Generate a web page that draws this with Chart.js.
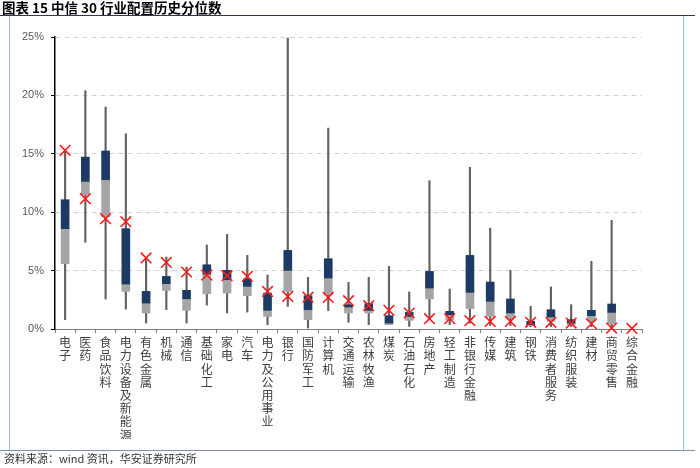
<!DOCTYPE html>
<html>
<head>
<meta charset="utf-8">
<script src="https://cdn.jsdelivr.net/npm/chart.js@4.4.0/dist/chart.umd.min.js"></script>
<style>
  html, body { margin: 0; padding: 0; background: #fff; }
  #wrap { position: relative; width: 700px; height: 468px; overflow: hidden; }
  #title { position: absolute; left: 2px; top: 0px; font: bold 13.5px "Noto Sans CJK SC", sans-serif; color: #000; line-height: 15px; }
  #source { position: absolute; left: 4px; top: 451px; font: 11px "Noto Sans CJK SC", sans-serif; color: #333; line-height: 15px; }
  .hl { position: absolute; height: 0; }
  .vl { position: absolute; width: 0; }
  canvas { position: absolute; left: 0; top: 0; }
</style>
</head>
<body>
<div id="wrap">
  <canvas id="c" width="700" height="468"></canvas>
  <div id="title">图表 15 中信 30 行业配置历史分位数</div>
  <div class="hl" style="left:0;top:15px;width:695px;border-top:1.5px solid #2f3b4c;"></div>
  <div class="vl" style="left:9px;top:16px;height:434px;border-left:1px solid #9dbbe0;"></div>
  <div class="vl" style="left:683px;top:16px;height:434px;border-left:1px solid #9dbbe0;"></div>
  <div class="hl" style="left:0;top:450px;width:695px;border-top:1px solid #7f93ad;"></div>
  <div id="source">资料来源：wind 资讯，华安证券研究所</div>
</div>
<script>
const categories = ['电子','医药','食品饮料','电力设备及新能源','有色金属','机械','通信','基础化工','家电','汽车','电力及公用事业','银行','国防军工','计算机','交通运输','农林牧渔','煤炭','石油石化','房地产','轻工制造','非银行金融','传媒','建筑','钢铁','消费者服务','纺织服装','建材','商贸零售','综合金融'];
const maxVals    = [15.35, 20.4, 19.0, 16.72, 6.08, 6.16, 5.3, 7.19, 8.1, 6.3, 4.62, 24.9, 4.42, 17.2, 3.99, 4.42, 5.36, 3.17, 12.7, 3.42, 13.84, 8.64, 5.02, 1.94, 3.6, 2.08, 5.79, 9.3, null];
const minVals    = [0.8, 7.42, 2.57, 1.71, 0.51, 1.65, 0.51, 2.05, 1.37, 1.45, 0.37, 1.94, 0.08, 1.57, 0.57, 0.37, 0.37, 0.22, 0.8, 0.37, 0.5, 0.3, 0.3, 0.2, 0.2, 0.2, 0.2, 0.05, null];
const q1Vals     = [5.59, 11.5, 9.6, 3.22, 1.37, 3.3, 1.6, 3.02, 3.08, 2.85, 1.08, 3.22, 0.8, 2.94, 1.37, 1.37, 0.37, 0.74, 2.57, 0.8, 1.74, 1.08, 0.94, 0.3, 0.65, 0.37, 0.65, 0.45, null];
const medianVals = [8.59, 12.64, 12.78, 3.85, 2.22, 3.88, 2.59, 4.7, 4.22, 3.65, 1.6, 5.02, 1.65, 4.37, 1.88, 1.6, 0.51, 1.08, 3.51, 1.22, 3.14, 2.37, 1.37, 0.37, 1.03, 0.51, 1.14, 1.42, null];
const q3Vals     = [11.07, 14.72, 15.24, 8.59, 3.22, 4.5, 3.31, 5.5, 5.02, 4.28, 3.08, 6.73, 2.85, 6.02, 2.08, 2.17, 1.14, 1.42, 4.93, 1.51, 6.3, 4.02, 2.57, 0.65, 1.65, 0.8, 1.6, 2.14, null];
const currentVals= [15.3, 11.16, 9.44, 9.19, 6.08, 5.7, 4.88, 4.62, 4.56, 4.5, 3.22, 2.79, 2.72, 2.7, 2.42, 2.0, 1.6, 1.37, 0.88, 0.88, 0.71, 0.65, 0.65, 0.57, 0.57, 0.51, 0.45, 0.08, 0.05];
const yTicks = [0, 5, 10, 15, 20, 25];

const pair = (a, b) => a.map((v, i) => (v == null || b[i] == null) ? null : [v, b[i]]);

new Chart(document.getElementById('c'), {
  type: 'bar',
  data: {
    labels: categories.map(c => c.split('')),
    datasets: [
      { label: '当前', type: 'line', data: currentVals, showLine: false, pointStyle: 'crossRot',
        pointRadius: 7.5, pointHoverRadius: 7.5, pointBorderColor: '#ff1a1a', pointBackgroundColor: '#ff1a1a',
        pointBorderWidth: 1.6, borderColor: '#ff1a1a', order: 0, clip: false },
      { label: '中位-75%', data: pair(medianVals, q3Vals), backgroundColor: '#1c3a63', barThickness: 8, grouped: false, order: 1 },
      { label: '25%-中位', data: pair(q1Vals, medianVals), backgroundColor: '#a5a5a5', barThickness: 8, grouped: false, order: 2 },
      { label: '区间', data: pair(minVals, maxVals), backgroundColor: '#626262', barThickness: 1.5, grouped: false, order: 3 }
    ]
  },
  options: {
    responsive: false,
    animation: false,
    layout: { padding: { top: 37, right: 58, bottom: 29, left: 0 } },
    plugins: { legend: { display: false }, tooltip: { enabled: false } },
    scales: {
      x: {
        offset: true,
        grid: { display: true, drawOnChartArea: false, drawTicks: true, tickLength: 4, tickColor: '#808080', offset: true },
        border: { display: true, color: '#808080', width: 1 },
        ticks: { autoSkip: false, maxRotation: 0, minRotation: 0, padding: 3, color: '#404040',
          font: { family: '"Noto Sans CJK SC", sans-serif', size: 12, lineHeight: 1.1 } },
        afterFit: s => { s.height = 110; }
      },
      y: {
        min: 0, max: 25,
        afterBuildTicks: s => { s.ticks = yTicks.map(v => ({ value: v })); },
        grid: { color: ctx => (ctx.tick && ctx.tick.value === 0) ? 'rgba(0,0,0,0)' : '#d0d0d0', lineWidth: 1,
          drawTicks: true, tickLength: 4, tickColor: '#000', tickBorderDash: [] },
        border: { display: true, color: '#000', width: 1.5, dash: [5, 4] },
        ticks: { padding: 7, color: '#595959', callback: v => v + '%',
          font: { family: '"Liberation Sans", Arial, sans-serif', size: 11 } },
        afterFit: s => { s.width = 55; }
      }
    }
  }
});
</script>
</body>
</html>
